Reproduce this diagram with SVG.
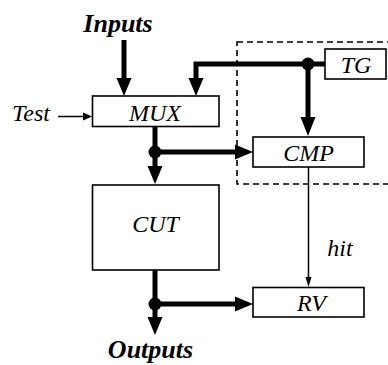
<svg xmlns="http://www.w3.org/2000/svg" width="388" height="365" viewBox="0 0 388 365">
<style>
.box{fill:#fff;stroke:#000;stroke-width:1.6}
.lbl{font-family:'Liberation Serif','Times New Roman',serif;font-style:italic;font-size:24px;fill:#000;text-anchor:middle}
.big{font-family:'Liberation Serif','Times New Roman',serif;font-style:italic;font-weight:bold;font-size:26px;fill:#000;text-anchor:middle}
.thick{fill:none;stroke:#000;stroke-width:5}
.thin{fill:none;stroke:#000;stroke-width:1.5}
.head{fill:#000;stroke:none}
</style>
<rect width="388" height="365" fill="#fff"/>
<rect id="group-boundary" x="237" y="42" width="160" height="142" fill="none" stroke="#000" stroke-width="1.6" stroke-dasharray="6,4"/>
<g id="connectors">
  <path class="thick" d="M124,40 V79"/>
  <polygon class="head" points="116.5,78 131.5,78 124,96"/>
  <path class="thick" d="M325,64 H196 V79"/>
  <polygon class="head" points="188.5,78 203.5,78 196,96"/>
  <path class="thick" d="M308,64 V118"/>
  <polygon class="head" points="300.5,117 315.5,117 308,136"/>
  <circle class="head" cx="308" cy="64" r="6.5"/>
  <path class="thin" d="M58,116.5 H85"/>
  <polygon class="head" points="83,112.5 83,120.5 92,116.5"/>
  <path class="thick" d="M155,126 V167"/>
  <polygon class="head" points="147.5,166 162.5,166 155,184"/>
  <path class="thick" d="M155,152 H236"/>
  <polygon class="head" points="235,144.5 235,159.5 253,152"/>
  <circle class="head" cx="155" cy="152" r="6.5"/>
  <path class="thin" d="M308.5,167 V279"/>
  <polygon class="head" points="305.5,277 311.5,277 308.5,287"/>
  <path class="thick" d="M155,270 V318"/>
  <polygon class="head" points="147.5,317 162.5,317 155,335"/>
  <path class="thick" d="M155,304 H236"/>
  <polygon class="head" points="235,296.5 235,311.5 253,304"/>
  <circle class="head" cx="155" cy="304" r="6.5"/>
</g>
<g id="inputs"><text class="big" x="118" y="32">Inputs</text></g>
<g id="outputs"><text class="big" x="150.5" y="358">Outputs</text></g>
<g id="test"><text class="lbl" x="31" y="121">Test</text></g>
<g id="hit"><text class="lbl" x="340" y="256">hit</text></g>
<g id="mux"><rect class="box" x="92.5" y="96" width="126.5" height="30.5"/><text class="lbl" x="155" y="121">MUX</text></g>
<g id="tg"><rect class="box" x="325" y="49" width="61" height="30"/><text class="lbl" x="356" y="72.5">TG</text></g>
<g id="cmp"><rect class="box" x="253" y="137" width="111" height="30"/><text class="lbl" x="308.5" y="161">CMP</text></g>
<g id="cut"><rect class="box" x="92.5" y="185" width="126.5" height="85"/><text class="lbl" x="155.5" y="232">CUT</text></g>
<g id="rv"><rect class="box" x="253" y="287.5" width="111" height="29.5"/><text class="lbl" x="311.5" y="311">RV</text></g>
</svg>
